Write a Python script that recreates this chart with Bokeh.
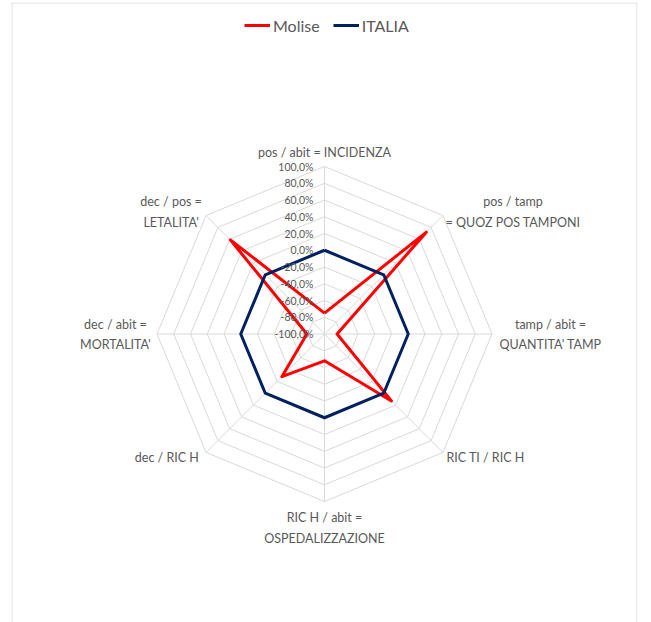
import numpy as np
from bokeh.plotting import figure
from bokeh.models import Range1d, Legend, LegendItem, Span
from bokeh.core.properties import value
from bokeh.embed import file_html
from bokeh.resources import INLINE

# ---- data ----
categories = [
    "pos / abit = INCIDENZA",
    "pos / tamp\n= QUOZ POS TAMPONI",
    "tamp / abit =\nQUANTITA' TAMP",
    "RIC TI / RIC H",
    "RIC H / abit =\nOSPEDALIZZAZIONE",
    "dec  / RIC H",
    "dec / abit =\nMORTALITA'",
    "dec / pos =\nLETALITA'",
]
molise = [-75, 72, -85, 13, -68, -28, -79, 59]
italia = [0, 0, 0, 0, 0, 0, 0, 0]
ticks = [-100, -80, -60, -40, -20, 0, 20, 40, 60, 80, 100]
tick_labels = ["-100,0%", "-80,0%", "-60,0%", "-40,0%", "-20,0%", "0,0%",
               "20,0%", "40,0%", "60,0%", "80,0%", "100,0%"]

# ---- layout ----
W, H = 640, 622
BL, BR, BT, BB = 11, 3, 2, 0
FW, FH = W - BL - BR, H - BT - BB
S = 0.8375                 # px per value unit
CX, CY = 324 - BL, 333.5 - BT   # centre in frame px
VMIN = ticks[0]
VMAX = ticks[-1]

n = len(categories)
ang = np.pi / 2 - np.arange(n) * 2 * np.pi / n


def to_xy(vals):
    r = np.asarray(vals, dtype=float) - VMIN
    x = r * np.cos(ang)
    y = r * np.sin(ang)
    return list(x) + [x[0]], list(y) + [y[0]]


xr = Range1d(-CX / S, (FW - CX) / S)
yr = Range1d(-(FH - CY) / S, CY / S)
p = figure(width=W, height=H, output_backend="svg", toolbar_location=None,
           x_range=xr, y_range=yr,
           x_axis_location=None, y_axis_location=None,
           min_border_left=BL, min_border_right=BR,
           min_border_top=BT, min_border_bottom=BB,
           outline_line_color=None,
           background_fill_color="white", border_fill_color="white")
p.grid.visible = False

# chart-area border (left, right, top; bottom runs off the page)
bcol = "#d9d9d9"
p.add_layout(Span(location=xr.start + 0.5 / S, dimension="height", line_color=bcol, line_width=1))
p.add_layout(Span(location=xr.end - 0.5 / S, dimension="height", line_color=bcol, line_width=1))
p.add_layout(Span(location=yr.end - 0.5 / S, dimension="width", line_color=bcol, line_width=1))

grid_col = "#d9d9d9"
# rings
ring_xs, ring_ys = [], []
for t in ticks[1:]:
    xs, ys = to_xy([t] * n)
    ring_xs.append(xs)
    ring_ys.append(ys)
p.multi_line(ring_xs, ring_ys, line_color=grid_col, line_width=1)
# spokes
ox, oy = to_xy([VMAX] * n)
p.segment(x0=[0] * n, y0=[0] * n, x1=ox[:-1], y1=oy[:-1],
          line_color=grid_col, line_width=1)

# series
mx, my = to_xy(molise)
ix, iy = to_xy(italia)
r_mol = p.line(mx, my, line_color="#ff0000", line_width=3, line_join="round")
r_ita = p.line(ix, iy, line_color="#002060", line_width=3, line_join="round")

txt_col = "#595959"
font = value("Lato")

# tick labels
p.text(x=[0] * len(ticks), y=[t - VMIN for t in ticks], text=tick_labels,
       x_offset=-11, text_align="right", text_baseline="middle",
       text_font=font, text_font_size="10.5px", text_color=txt_col)

# category labels
lab_dx = [0, 70, 58.5, 42.6, 0, -37.6, -41.5, -35]
lab_dy = [-14.5, -3.5, 0.5, 4.7, 26.5, 4.7, 0.5, -3.5]
p.text(x=ox[:-1], y=oy[:-1], text=categories, x_offset=lab_dx, y_offset=lab_dy,
       text_align="center", text_baseline="middle", text_line_height=1.35,
       text_font=font, text_font_size="12.5px", text_color=txt_col)

legend = Legend(items=[LegendItem(label="Molise", renderers=[r_mol]),
                       LegendItem(label="ITALIA", renderers=[r_ita])],
                orientation="horizontal", location=(233, 587),
                glyph_width=26, glyph_height=20, label_height=20,
                label_standoff=3, spacing=13, padding=0, margin=0,
                label_text_font="Lato", label_text_font_size="16px",
                label_text_color=txt_col,
                border_line_alpha=0, background_fill_alpha=0)
p.add_layout(legend)

open("out.html", "w").write(file_html(p, INLINE))
